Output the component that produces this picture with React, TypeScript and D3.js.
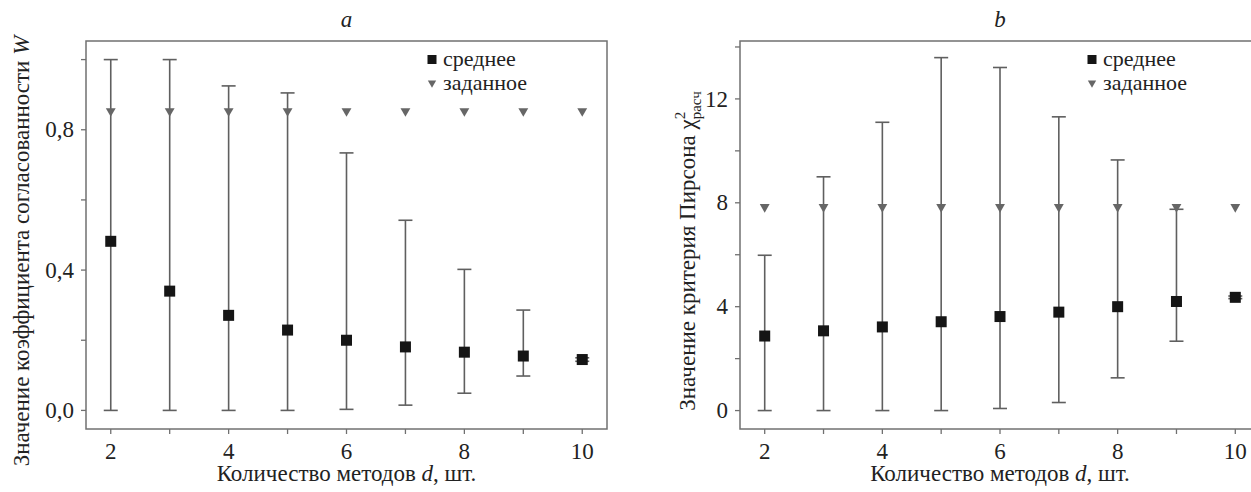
import React from "react";
import * as d3 from "d3";

const methods = [2, 3, 4, 5, 6, 7, 8, 9, 10];

const wMean = [0.482, 0.34, 0.271, 0.229, 0.2, 0.181, 0.166, 0.155, 0.145];
const wUpper = [1.0, 1.0, 0.925, 0.905, 0.734, 0.542, 0.402, 0.286, 0.15];
const wLower = [0.0, 0.0, 0.0, 0.0, 0.003, 0.015, 0.049, 0.098, 0.14];
const wTarget = [0.853, 0.853, 0.853, 0.853, 0.853, 0.853, 0.853, 0.853, 0.853];
const wTicks = [0, 0.2, 0.4, 0.6, 0.8, 1.0];
const wLabeled = [0, 0.4, 0.8];

const chiMean = [2.87, 3.07, 3.22, 3.42, 3.62, 3.79, 4.0, 4.2, 4.36];
const chiUpper = [5.98, 9.0, 11.1, 13.59, 13.21, 11.31, 9.65, 7.75, 4.41];
const chiLower = [0, 0, 0, 0, 0.08, 0.31, 1.26, 2.67, 4.31];
const chiTarget = [7.84, 7.84, 7.84, 7.84, 7.84, 7.84, 7.84, 7.84, 7.84];
const chiTicks = [0, 2, 4, 6, 8, 10, 12, 14];
const chiLabeled = [0, 4, 8, 12];

const xTicks = [2, 3, 4, 5, 6, 7, 8, 9, 10];
const xLabeled = [2, 4, 6, 8, 10];

const legendLabels = ["среднее", "заданное"];

const FONT = { fontFamily: '"Liberation Serif"' };
const FS = 23;
const GRAY = "#5f5f5f";
const FRAME = "#707070";
const TRI = "#666666";
const SQ = "#151515";

type PanelProps = {
  x0: number;
  x1: number;
  y0: number;
  y1: number;
  yDomain: [number, number];
  mean: number[];
  upper: number[];
  lower: number[];
  target: number[];
  yTicks: number[];
  yLabeled: number[];
  fmt: (v: number) => string;
  title: string;
  legendX: number;
  yTitleX: number;
  yTitle: React.ReactNode;
};

function Panel(p: PanelProps) {
  const x = d3.scaleLinear().domain([1.58, 10.42]).range([p.x0, p.x1]);
  const y = d3.scaleLinear().domain(p.yDomain).range([p.y1, p.y0]);
  const tri = d3.symbol().type(d3.symbolTriangle).size(42)();
  const cap = 7;
  const sq = 11;
  const cx = (p.x0 + p.x1) / 2;
  return (
    <g fill="#222">
      <text x={cx} y={27} textAnchor="middle" fontSize={FS} fontStyle="italic" style={FONT}>
        {p.title}
      </text>
      <rect
        x={p.x0}
        y={p.y0}
        width={p.x1 - p.x0}
        height={p.y1 - p.y0}
        fill="none"
        stroke={FRAME}
        strokeWidth={1.5}
      />
      {p.yTicks.map((t) => (
        <line key={"yt" + t} x1={p.x0 - 5} x2={p.x0} y1={y(t)} y2={y(t)} stroke={FRAME} strokeWidth={1.3} />
      ))}
      {p.yLabeled.map((t) => (
        <text key={"yl" + t} x={p.x0 - 12} y={y(t) + 7.6} textAnchor="end" fontSize={FS} style={FONT}>
          {p.fmt(t)}
        </text>
      ))}
      {xTicks.map((t) => (
        <line key={"xt" + t} x1={x(t)} x2={x(t)} y1={p.y1} y2={p.y1 + 5} stroke={FRAME} strokeWidth={1.3} />
      ))}
      {xLabeled.map((t) => (
        <text key={"xl" + t} x={x(t)} y={458.5} textAnchor="middle" fontSize={FS} style={FONT}>
          {t}
        </text>
      ))}
      <text x={cx} y={481} textAnchor="middle" fontSize={FS} style={FONT}>
        Количество методов <tspan fontStyle="italic">d</tspan>, шт.
      </text>
      <text
        transform={`translate(${p.yTitleX},251) rotate(-90)`}
        textAnchor="middle"
        fontSize={FS}
        style={FONT}
      >
        {p.yTitle}
      </text>
      {methods.map((m, i) => (
        <g key={"eb" + m} stroke={GRAY} strokeWidth={1.6}>
          <line x1={x(m)} x2={x(m)} y1={y(p.lower[i])} y2={y(p.upper[i])} />
          <line x1={x(m) - cap} x2={x(m) + cap} y1={y(p.upper[i])} y2={y(p.upper[i])} />
          <line x1={x(m) - cap} x2={x(m) + cap} y1={y(p.lower[i])} y2={y(p.lower[i])} />
        </g>
      ))}
      {methods.map((m, i) => (
        <path
          key={"tr" + m}
          d={tri as string}
          transform={`translate(${x(m)},${y(p.target[i])}) rotate(180)`}
          fill={TRI}
        />
      ))}
      {methods.map((m, i) => (
        <rect key={"sq" + m} x={x(m) - sq / 2} y={y(p.mean[i]) - sq / 2} width={sq} height={sq} fill={SQ} />
      ))}
      <rect x={p.legendX - 4.5} y={59.5 - 4.5} width={9} height={9} fill={SQ} />
      <text x={p.legendX + 11} y={65.5} fontSize={22} style={FONT}>
        {legendLabels[0]}
      </text>
      <path
        d={d3.symbol().type(d3.symbolTriangle).size(30)() as string}
        transform={`translate(${p.legendX},83) rotate(180)`}
        fill={TRI}
      />
      <text x={p.legendX + 11} y={90} fontSize={22} style={FONT}>
        {legendLabels[1]}
      </text>
    </g>
  );
}

export default function App() {
  const fmtW = (v: number) => d3.format(".1f")(v).replace(".", ",");
  const fmtC = (v: number) => d3.format("d")(v);
  return (
    <svg
      width={1251}
      height={492}
      style={{ position: "absolute", left: 0, top: 0, background: "#fff" }}
    >
      <rect width={1251} height={492} fill="#fff" />
      <Panel
        x0={86}
        x1={607}
        y0={41}
        y1={429}
        yDomain={[-0.053, 1.053]}
        mean={wMean}
        upper={wUpper}
        lower={wLower}
        target={wTarget}
        yTicks={wTicks}
        yLabeled={wLabeled}
        fmt={fmtW}
        title="a"
        legendX={432}
        yTitleX={29}
        yTitle={
          <>
            Значение коэффициента согласованности <tspan fontStyle="italic">W</tspan>
          </>
        }
      />
      <Panel
        x0={740}
        x1={1260}
        y0={41}
        y1={429}
        yDomain={[-0.71, 14.23]}
        mean={chiMean}
        upper={chiUpper}
        lower={chiLower}
        target={chiTarget}
        yTicks={chiTicks}
        yLabeled={chiLabeled}
        fmt={fmtC}
        title="b"
        legendX={1092}
        yTitleX={695}
        yTitle={
          <>
            Значение критерия Пирсона χ
            <tspan fontSize={15} dy={-10}>2</tspan>
            <tspan fontSize={15} dx={-7.5} dy={16}>расч</tspan>
          </>
        }
      />
    </svg>
  );
}
